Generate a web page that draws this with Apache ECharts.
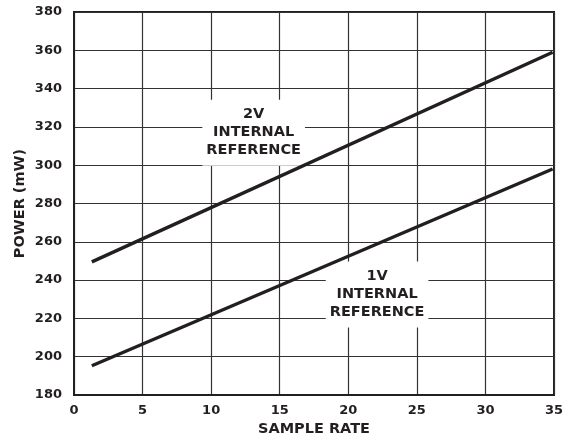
<!DOCTYPE html>
<html>
<head>
<meta charset="utf-8">
<style>
  html, body { margin: 0; padding: 0; background: #fff; }
  #chart { width: 568px; height: 438px; }
</style>
<script src="https://cdn.jsdelivr.net/npm/echarts@6/dist/echarts.min.js"></script>
</head>
<body>
<div id="chart"></div>
<script>
// series: [sample rate, power mW]
var ref2V = [[1.3, 249.5], [34.9, 359]];
var ref1V = [[1.3, 195.3], [34.9, 298]];
// label anchors (centre of each text block)
var label2V = [[13.1, 317]];
var label1V = [[22.1, 232.5]];
var label2VText = '2V\nINTERNAL\nREFERENCE';
var label1VText = '1V\nINTERNAL\nREFERENCE';

var fontFam = '"DejaVu Sans", sans-serif';
var ink = '#231f20';

var chart = echarts.init(document.getElementById('chart'));

function labelSeries(data, text) {
  return {
    type: 'scatter',
    data: data,
    symbolSize: 0,
    silent: true,
    z: 4,
    itemStyle: { opacity: 1 },
    label: {
      show: true,
      position: 'inside',
      formatter: text,
      color: ink,
      opacity: 1,
      textBorderWidth: 0,
      fontFamily: fontFam,
      fontWeight: 'bold',
      fontSize: 14.5,
      lineHeight: 18,
      align: 'center',
      backgroundColor: '#fff',
      padding: [5, 4, 7, 4]
    }
  };
}

var option = {
  animation: false,
  backgroundColor: '#fff',
  grid: {
    left: 74, right: 14, top: 12, bottom: 43,
    outerBoundsMode: 'none',
    show: true, borderColor: ink, borderWidth: 2
  },
  xAxis: {
    type: 'value', min: 0, max: 35, interval: 5,
    name: 'SAMPLE RATE', nameLocation: 'middle', nameGap: 27,
    nameMoveOverlap: false,
    nameTextStyle: { color: ink, fontFamily: fontFam, fontWeight: 'bold', fontSize: 14.5 },
    axisLine: { show: true, lineStyle: { color: ink, width: 2 } },
    axisTick: { show: false },
    axisLabel: { color: ink, fontFamily: fontFam, fontWeight: 'bold', fontSize: 13, margin: 9 },
    splitLine: { show: true, lineStyle: { color: '#333', width: 1.2 } }
  },
  yAxis: {
    type: 'value', min: 180, max: 380, interval: 20,
    name: 'POWER (mW)', nameLocation: 'middle', nameGap: 46,
    nameMoveOverlap: false,
    nameTextStyle: { color: ink, fontFamily: fontFam, fontWeight: 'bold', fontSize: 14.5 },
    axisLine: { show: true, lineStyle: { color: ink, width: 2 } },
    axisTick: { show: false },
    axisLabel: { color: ink, fontFamily: fontFam, fontWeight: 'bold', fontSize: 13, margin: 12 },
    splitLine: { show: true, lineStyle: { color: '#333', width: 1.2 } }
  },
  series: [
    {
      type: 'line', data: ref2V, symbol: 'none', z: 8,
      lineStyle: { color: ink, width: 3.4 }
    },
    {
      type: 'line', data: ref1V, symbol: 'none', z: 8,
      lineStyle: { color: ink, width: 3.4 }
    },
    labelSeries(label2V, label2VText),
    labelSeries(label1V, label1VText)
  ]
};
chart.setOption(option);
</script>
</body>
</html>
